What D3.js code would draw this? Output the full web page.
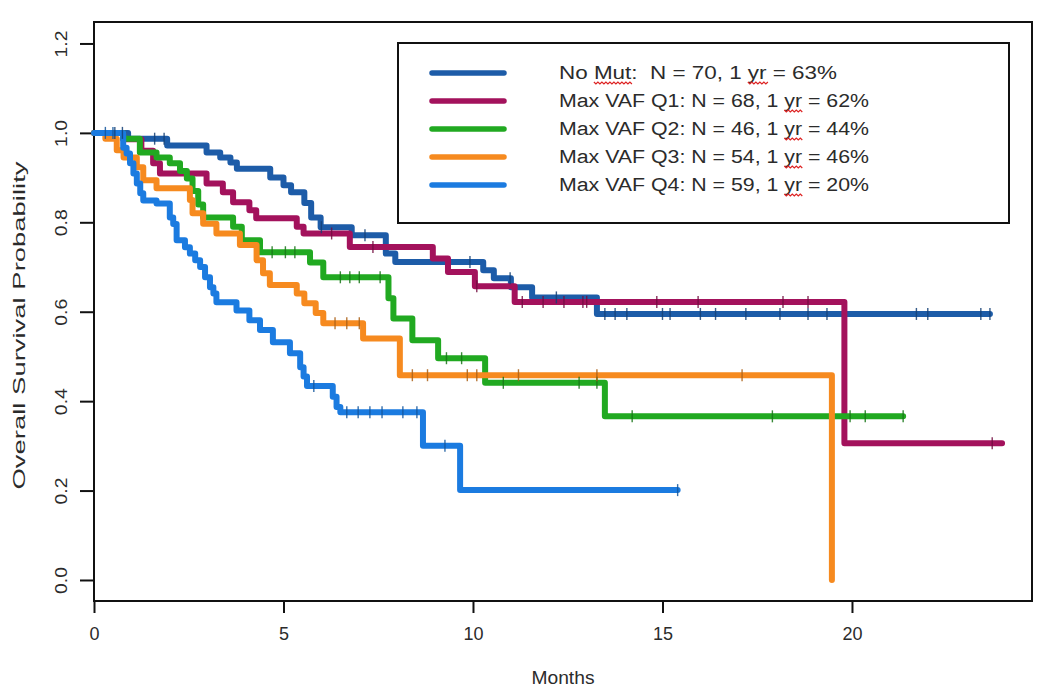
<!DOCTYPE html>
<html>
<head>
<meta charset="utf-8">
<script src="https://cdn.jsdelivr.net/npm/d3@7"></script>
<style>
  html, body { margin: 0; padding: 0; background: #fff; }
  svg { display: block; }
  text { font-family: "Liberation Sans", Arial, sans-serif; fill: #2b2b2b; white-space: pre; }
</style>
</head>
<body>
<svg id="chart" width="1050" height="694"></svg>
<script>
// ---- Data ----
const groupNames = ["No Mut", "Max VAF Q1", "Max VAF Q2", "Max VAF Q3", "Max VAF Q4"];
const legendLabels = [
  "No Mut:  N = 70, 1 yr = 63%",
  "Max VAF Q1: N = 68, 1 yr = 62%",
  "Max VAF Q2: N = 46, 1 yr = 44%",
  "Max VAF Q3: N = 54, 1 yr = 46%",
  "Max VAF Q4: N = 59, 1 yr = 20%"
];
const groupColors = ["#1d5ca8", "#a3125c", "#21a921", "#f68a1f", "#1b7be0"];

// step points: [months, survival after this time]
const stepsNoMut = [[0,1],[0.9,0.987],[1.93,0.972],[2.97,0.956],[3.33,0.945],[3.6,0.934],[3.77,0.92],[4.65,0.9],[5.0,0.883],[5.2,0.867],[5.55,0.843],[5.73,0.811],[5.98,0.789],[6.8,0.771],[7.7,0.73],[7.95,0.711],[10.27,0.693],[10.55,0.675],[11.0,0.655],[11.56,0.632],[13.27,0.595]];
const endNoMut = 23.64;
const censNoMut = [0.55,0.75,1.6,1.85,6.0,7.15,9.92,10.98,12.2,13.48,13.75,14.06,15.0,15.2,16.0,16.4,17.2,18.1,18.84,19.34,21.7,22.0,23.4,23.64];

const stepsQ1 = [[0,1],[0.77,0.986],[1.25,0.96],[1.56,0.932],[1.74,0.909],[2.97,0.887],[3.4,0.867],[3.67,0.845],[4.1,0.827],[4.28,0.809],[5.35,0.79],[5.53,0.775],[6.75,0.745],[8.94,0.719],[9.34,0.689],[10.05,0.657],[11.1,0.622],[19.8,0.306]];
const endQ1 = 23.96;
const censQ1 = [6.27,7.36,10.1,11.3,11.85,12.4,12.9,13.0,14.85,15.94,18.18,18.84,23.7];

const stepsQ2 = [[0,1],[0.77,0.987],[1.21,0.956],[1.65,0.945],[2.0,0.932],[2.27,0.915],[2.45,0.898],[2.6,0.87],[2.75,0.84],[2.88,0.811],[3.67,0.79],[3.9,0.76],[4.38,0.733],[5.7,0.71],[6.05,0.677],[7.77,0.63],[7.9,0.585],[8.4,0.536],[9.08,0.496],[10.32,0.441],[13.48,0.366]];
const endQ2 = 21.35;
const censQ2 = [4.7,5.05,5.3,6.5,6.75,7.0,7.55,9.3,9.7,10.8,12.8,13.27,14.2,17.9,19.95,20.35,21.35];

const stepsQ3 = [[0,1],[0.3,0.987],[0.6,0.961],[0.78,0.945],[1.13,0.923],[1.3,0.894],[1.65,0.876],[2.53,0.85],[2.6,0.82],[2.88,0.797],[3.23,0.775],[3.85,0.749],[4.29,0.715],[4.46,0.686],[4.64,0.66],[5.35,0.641],[5.55,0.619],[5.85,0.597],[6.05,0.574],[7.1,0.54],[8.07,0.458],[19.47,0.0]];
const endQ3 = 19.47;
const censQ3 = [6.36,6.67,7.0,8.4,8.8,9.85,10.1,11.2,13.27,17.1];

const stepsQ4 = [[0,1],[0.77,0.967],[0.86,0.954],[0.95,0.932],[1.04,0.909],[1.13,0.887],[1.22,0.865],[1.3,0.849],[1.65,0.842],[2.0,0.811],[2.09,0.796],[2.18,0.76],[2.4,0.744],[2.53,0.73],[2.67,0.715],[2.8,0.7],[2.93,0.677],[3.06,0.655],[3.15,0.641],[3.23,0.621],[3.76,0.603],[4.1,0.581],[4.38,0.559],[4.72,0.532],[5.17,0.507],[5.44,0.476],[5.53,0.455],[5.62,0.434],[6.3,0.41],[6.4,0.387],[6.5,0.375],[8.68,0.3],[9.66,0.201]];
const endQ4 = 15.4;
const censQ4 = [0.3,0.5,5.8,6.67,6.97,7.28,7.6,8.15,8.52,9.26,15.4];

const xTicks = [0, 5, 10, 15, 20];
const yTicks = [0.0, 0.2, 0.4, 0.6, 0.8, 1.0, 1.2];
const xTitle = "Months";
const yTitle = "Overall Survival Probability";

// ---- Layout ----
const svg = d3.select("#chart");
const plot = { left: 94, right: 1032, top: 22, bottom: 601 };
const x = d3.scaleLinear().domain([0, 24.75]).range([plot.left, plot.right]);
const y = d3.scaleLinear().domain([-0.047, 1.248]).range([plot.bottom, plot.top]);

const groups = [
  { steps: stepsNoMut, end: endNoMut, cens: censNoMut },
  { steps: stepsQ1, end: endQ1, cens: censQ1 },
  { steps: stepsQ2, end: endQ2, cens: censQ2 },
  { steps: stepsQ3, end: endQ3, cens: censQ3 },
  { steps: stepsQ4, end: endQ4, cens: censQ4 }
];

// frame
svg.append("rect")
  .attr("x", plot.left).attr("y", plot.top)
  .attr("width", plot.right - plot.left).attr("height", plot.bottom - plot.top)
  .attr("fill", "none").attr("stroke", "#111").attr("stroke-width", 2);

// axes
const xAxis = d3.axisBottom(x).tickValues(xTicks).tickSize(12).tickFormat(d3.format("d"));
const gx = svg.append("g").attr("transform", `translate(0,${plot.bottom})`).call(xAxis);
gx.select(".domain").remove();
gx.selectAll(".tick line").attr("stroke", "#111").attr("stroke-width", 2);
gx.selectAll(".tick text").attr("y", 26).attr("font-size", 18).attr("fill", "#2b2b2b")
  .style("font-family", '"Liberation Sans", Arial, sans-serif');

const yAxis = d3.axisLeft(y).tickValues(yTicks).tickSize(14).tickFormat(d3.format(".1f"));
const gy = svg.append("g").attr("transform", `translate(${plot.left},0)`).call(yAxis);
gy.select(".domain").remove();
gy.selectAll(".tick line").attr("stroke", "#111").attr("stroke-width", 2);
gy.selectAll(".tick text")
  .attr("x", null).attr("dy", null)
  .attr("transform", "translate(-27,0) rotate(-90)")
  .attr("text-anchor", "middle")
  .attr("font-size", 17).attr("fill", "#2b2b2b")
  .attr("textLength", 27).attr("lengthAdjust", "spacingAndGlyphs")
  .style("font-family", '"Liberation Sans", Arial, sans-serif');

svg.append("text").attr("x", (plot.left + plot.right) / 2).attr("y", 684)
  .attr("text-anchor", "middle").attr("font-size", 18)
  .attr("textLength", 63).attr("lengthAdjust", "spacingAndGlyphs").text(xTitle);
svg.append("text").attr("transform", `translate(25,${(plot.top + plot.bottom) / 2 + 14}) rotate(-90)`)
  .attr("text-anchor", "middle").attr("font-size", 17)
  .attr("textLength", 328).attr("lengthAdjust", "spacingAndGlyphs").text(yTitle);

// curves
const line = d3.line().x(d => x(d[0])).y(d => y(d[1])).curve(d3.curveStepAfter);
function survAt(steps, t) {
  let s = steps[0][1];
  for (const p of steps) { if (p[0] <= t) s = p[1]; }
  return s;
}
groups.forEach((g, i) => {
  const pts = g.steps.slice();
  const last = pts[pts.length - 1];
  if (g.end > last[0]) pts.push([g.end, last[1]]);
  svg.append("path").attr("d", line(pts))
    .attr("fill", "none").attr("stroke", groupColors[i])
    .attr("stroke-width", 6).attr("stroke-linejoin", "round").attr("stroke-linecap", "round");
});
groups.forEach((g, i) => {
  const dark = d3.color(groupColors[i]).darker(1.0).formatHex();
  svg.append("g").selectAll("line").data(g.cens).join("line")
    .attr("x1", d => x(d)).attr("x2", d => x(d))
    .attr("y1", d => y(survAt(g.steps, d)) - 6).attr("y2", d => y(survAt(g.steps, d)) + 6)
    .attr("stroke", dark).attr("stroke-width", 1.4).attr("opacity", 0.85);
});

// legend
const lg = svg.append("g");
lg.append("rect").attr("x", 398).attr("y", 43).attr("width", 1009 - 398).attr("height", 223 - 43)
  .attr("fill", "#fff").attr("stroke", "#111").attr("stroke-width", 2);
const rowY = d3.scalePoint().domain(groupNames).range([73, 185]);
const legendTextEnds = [837, 869, 869, 869, 869];
groupNames.forEach((name, i) => {
  const yy = rowY(name);
  lg.append("line").attr("x1", 432).attr("x2", 504).attr("y1", yy).attr("y2", yy)
    .attr("stroke", groupColors[i]).attr("stroke-width", 5.5).attr("stroke-linecap", "round");
  const label = legendLabels[i];
  const t = lg.append("text").attr("x", 559).attr("y", yy + 6).attr("font-size", 18).text(label);
  const node = t.node();
  const natural = node.getComputedTextLength();
  const target = legendTextEnds[i] - 559;
  const k = target / natural;
  const words = i === 0 ? ["Mut", "yr"] : ["yr"];
  const marks = words.map(w => {
    const idx = label.indexOf(w);
    return [559 + k * node.getSubStringLength(0, idx), k * node.getSubStringLength(idx, w.length)];
  });
  t.attr("textLength", target).attr("lengthAdjust", "spacingAndGlyphs");
  // spell-check squiggles under "Mut" and "yr"
  marks.forEach(([x0, wlen]) => {
    let d = `M${x0},${yy + 9}`;
    for (let j = 0, xx = x0; xx < x0 + wlen; j++) {
      xx += 2; d += ` L${xx},${yy + 9 + (j % 2 ? 0 : 2)}`;
    }
    lg.append("path").attr("d", d).attr("fill", "none").attr("stroke", "#d22").attr("stroke-width", 1.2);
  });
});
</script>
</body>
</html>
